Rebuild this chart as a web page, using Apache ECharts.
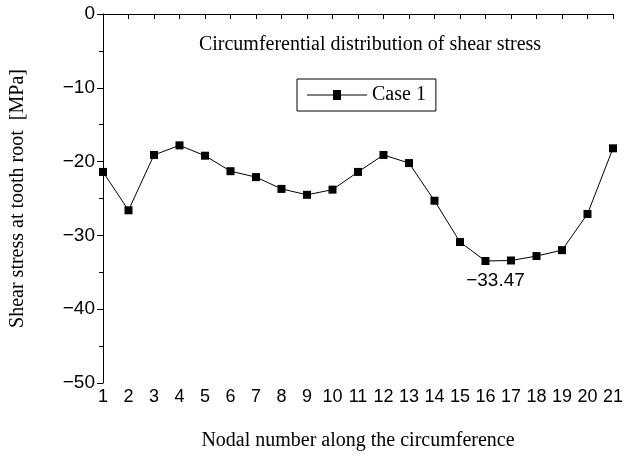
<!DOCTYPE html>
<html><head><meta charset="utf-8">
<script src="https://cdn.jsdelivr.net/npm/echarts@6/dist/echarts.min.js"></script>
<style>html,body{margin:0;padding:0;background:#fff}#c{width:626px;height:463px}</style>
</head><body><div id="c"></div>
<script>
var nodes = ['1','2','3','4','5','6','7','8','9','10','11','12','13','14','15','16','17','18','19','20','21'];
var case1 = [-21.4,-26.6,-19.1,-17.8,-19.2,-21.3,-22.1,-23.7,-24.5,-23.8,-21.4,-19.1,-20.2,-25.3,-30.9,-33.47,-33.4,-32.8,-32.0,-27.1,-18.2];
var yTicks = [0,-10,-20,-30,-40,-50];

var chart = echarts.init(document.getElementById('c'));
var serif = 'Liberation Serif';
chart.setOption({
  animation: false,
  textStyle: {fontFamily: serif},
  title: {text: 'Circumferential distribution of shear stress', left: 365, top: 30, textAlign: 'center',
    textStyle: {fontFamily: serif, fontWeight: 'normal', fontSize: 20, color: '#000'}},
  legend: {left: 297, top: 79, orient: 'horizontal', padding: [6, 10], borderColor: '#000', borderWidth: 1,
    itemWidth: 60, itemHeight: 10, textStyle: {fontFamily: serif, fontSize: 20, color: '#000'},
    data: [{name: 'Case 1', icon: 'path://M0,4.6L26,4.6L26,0L34,0L34,4.6L60,4.6L60,5.4L34,5.4L34,10L26,10L26,5.4L0,5.4Z'}]},
  grid: {left: 97, right: 4, top: 14, bottom: 80},
  xAxis: {type: 'category', data: nodes, boundaryGap: false,
    name: 'Nodal number along the circumference', nameLocation: 'middle', nameGap: 48,
    nameTextStyle: {fontFamily: serif, fontSize: 20, color: '#000'},
    axisLine: {lineStyle: {color: '#000'}}, axisTick: {inside: false, length: 5, lineStyle: {color: '#000'}},
    axisLabel: {fontFamily: 'Liberation Sans', fontSize: 18, color: '#000', interval: 0, margin: 5}},
  yAxis: {type: 'value', min: -50, max: 0, interval: 10,
    name: 'Shear stress at tooth root  [MPa]', nameLocation: 'middle', nameGap: 75,
    nameTextStyle: {fontFamily: serif, fontSize: 20, color: '#000'},
    axisLine: {show: true, lineStyle: {color: '#000'}}, axisTick: {show: true, length: 6, lineStyle: {color: '#000'}},
    minorTick: {show: true, splitNumber: 2, length: 4, lineStyle: {color: '#000'}},
    splitLine: {show: false},
    axisLabel: {fontFamily: 'Liberation Sans', fontSize: 19, color: '#000', margin: 8,
      formatter: function (v) { return v < 0 ? '\u2212' + (-v) : String(v); }}},
  series: [{name: 'Case 1', type: 'line', data: case1, symbol: 'rect', symbolSize: 8,
    itemStyle: {color: '#000'}, lineStyle: {color: '#000', width: 1},
    markPoint: {symbol: 'circle', symbolSize: 0,
      data: [{coord: [15, -33.47], value: '\u221233.47',
        label: {show: true, position: 'bottom', distance: 10, fontFamily: 'Liberation Sans', fontSize: 19, color: '#000', offset: [10, 0]}}]}}]
});
</script></body></html>
